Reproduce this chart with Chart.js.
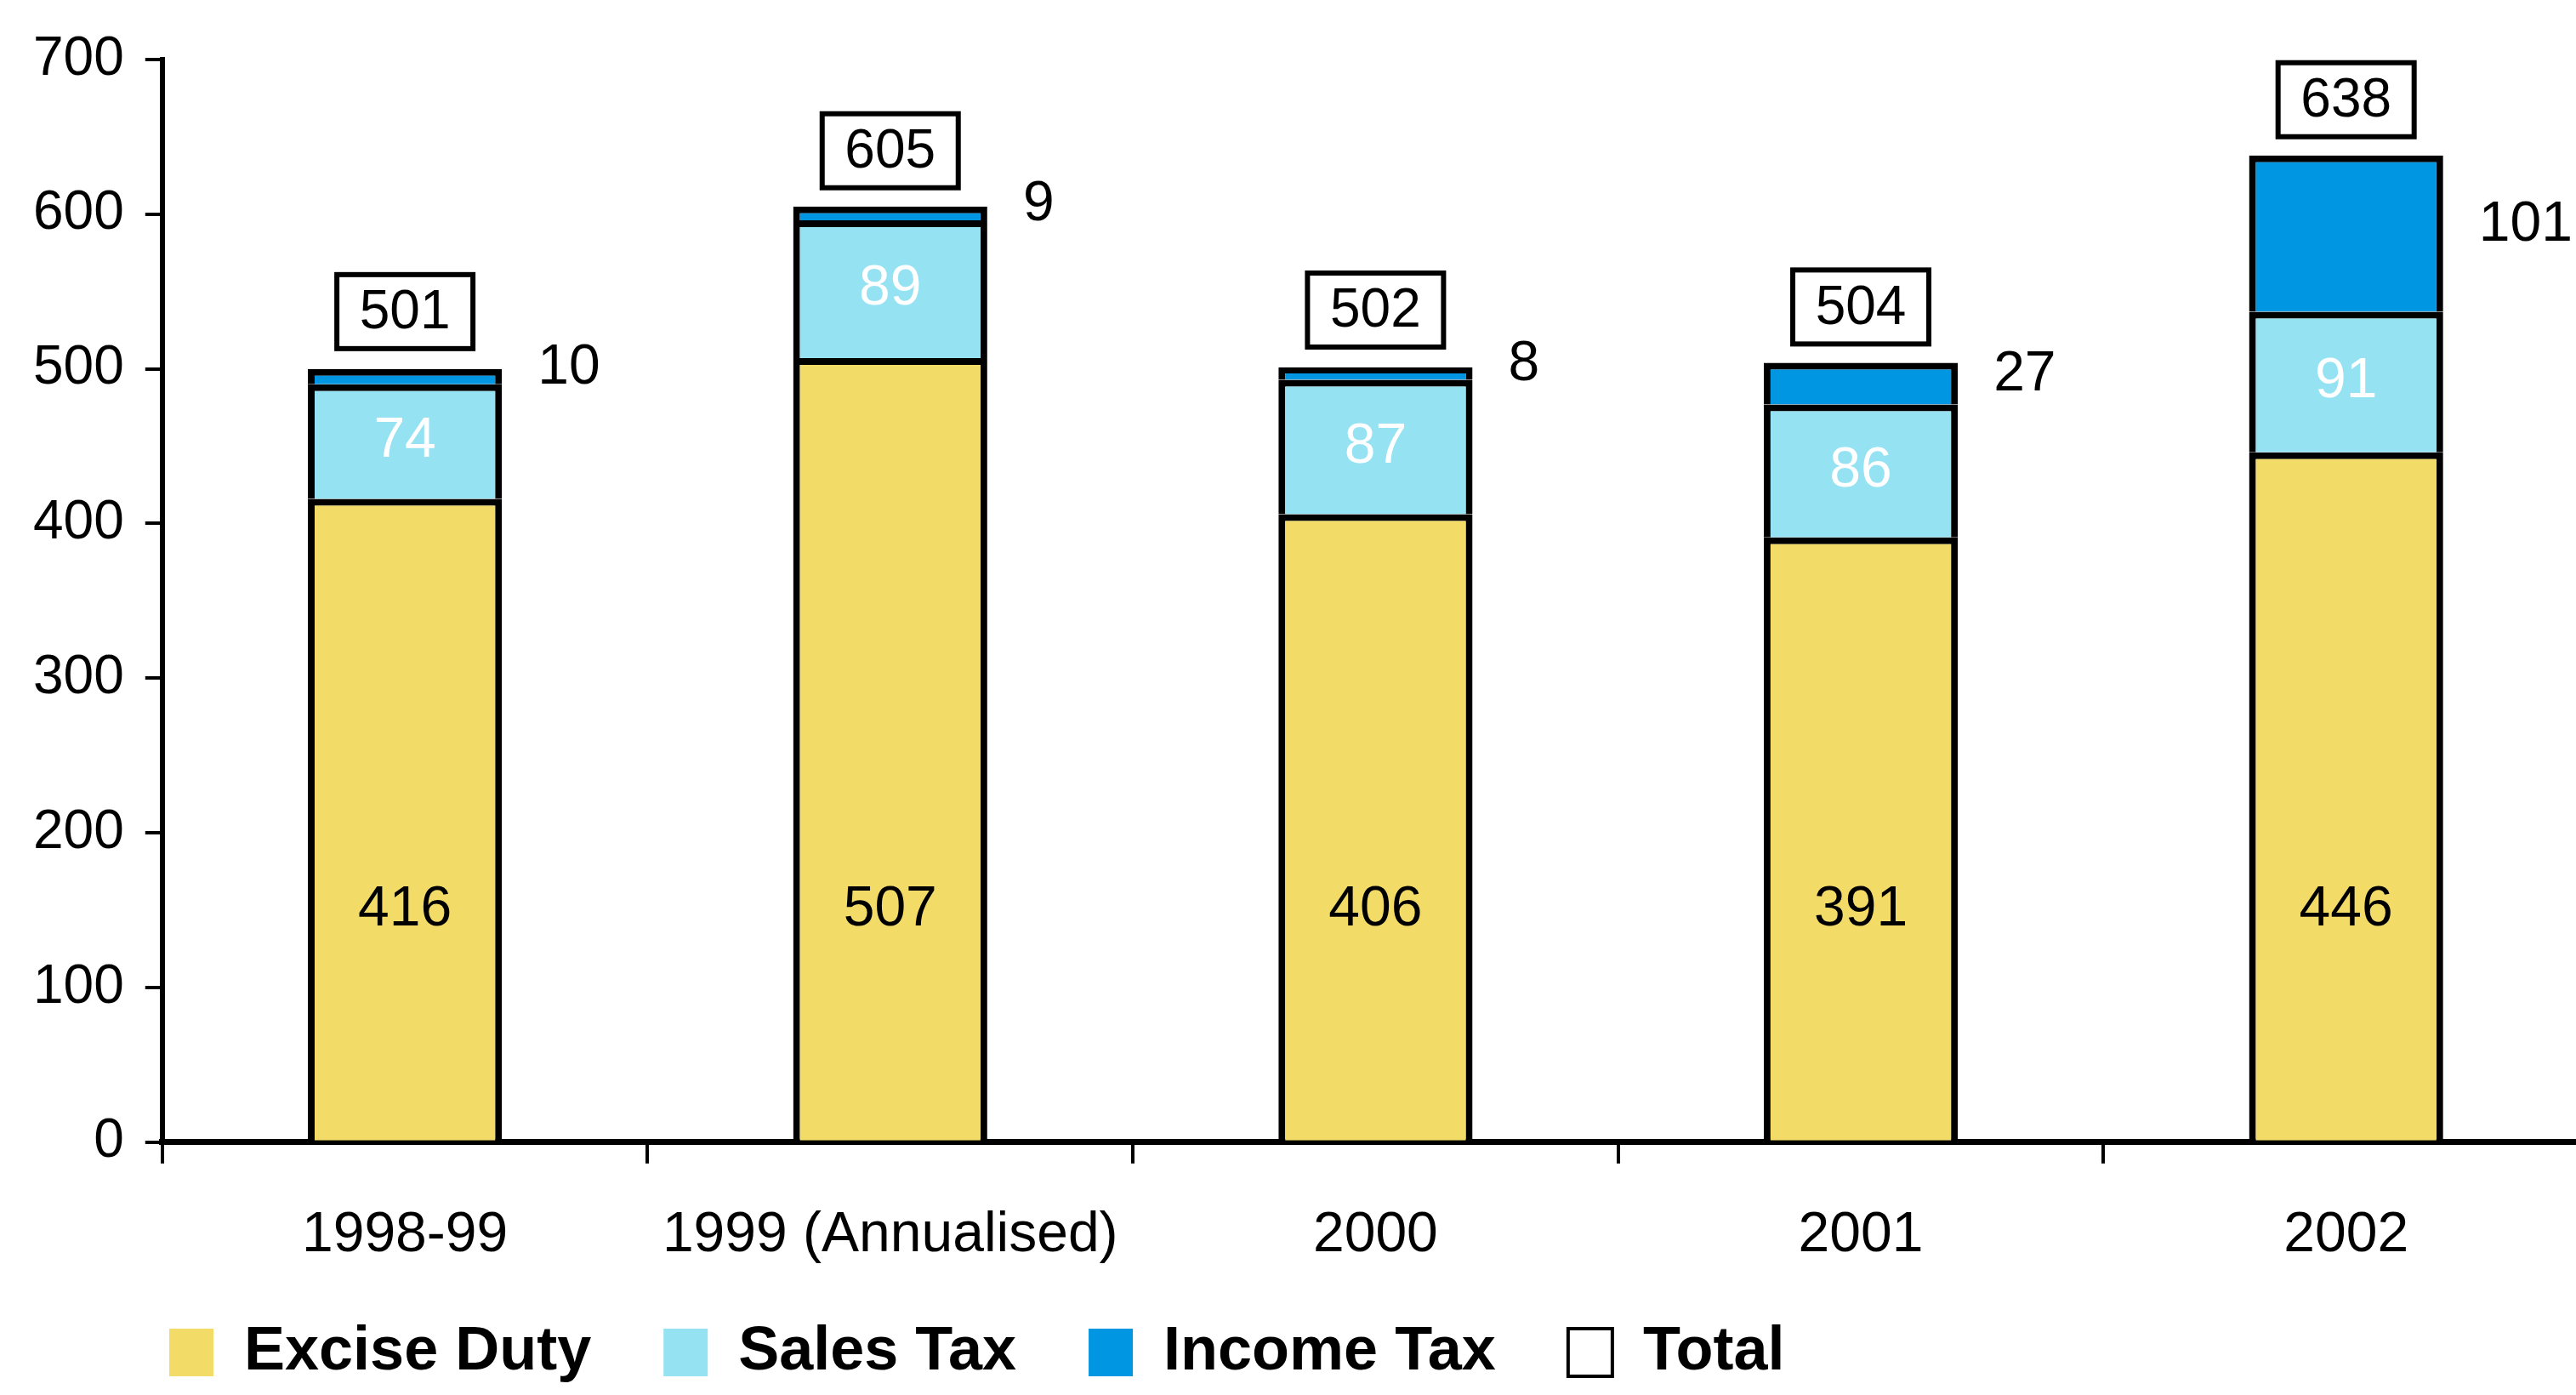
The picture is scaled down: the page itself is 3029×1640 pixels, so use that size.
<!DOCTYPE html>
<html>
<head>
<meta charset="utf-8">
<script src="https://cdn.jsdelivr.net/npm/chart.js@4.4.1/dist/chart.umd.min.js"></script>
<style>
  html, body { margin: 0; padding: 0; background: #fff; overflow: hidden; }
  #wrap { width: 3044px; height: 1640px; position: relative; }
</style>
</head>
<body>
<div id="wrap"><canvas id="taxChart"></canvas></div>
<script>
const years = ['1998-99', '1999 (Annualised)', '2000', '2001', '2002'];
const exciseDuty = [416, 507, 406, 391, 446];
const salesTax = [74, 89, 87, 86, 91];
const incomeTax = [10, 9, 8, 27, 101];
const totals = [501, 605, 502, 504, 638];

const FONT = '"Liberation Sans", Arial, Helvetica, sans-serif';

// value labels: excise inside near bottom, sales tax centred in white,
// income tax beside the bar, totals in a box above the stack
const barLabels = {
    id: 'barLabels',
    afterDatasetsDraw(chart) {
        const ctx = chart.ctx;
        const yScale = chart.scales.y;
        ctx.save();
        ctx.textBaseline = 'middle';
        ctx.font = '66px ' + FONT;

        chart.getDatasetMeta(0).data.forEach((bar, i) => {
            ctx.fillStyle = '#000';
            ctx.textAlign = 'center';
            ctx.fillText(exciseDuty[i], bar.x, yScale.getPixelForValue(150));
        });

        chart.getDatasetMeta(1).data.forEach((bar, i) => {
            ctx.fillStyle = '#fff';
            ctx.textAlign = 'center';
            ctx.fillText(salesTax[i], bar.x, (bar.y + bar.base) / 2);
        });

        chart.getDatasetMeta(2).data.forEach((bar, i) => {
            ctx.fillStyle = '#000';
            ctx.textAlign = 'left';
            ctx.fillText(incomeTax[i], bar.x + bar.width / 2 + 42, (bar.y + bar.base) / 2 - 10);
        });

        ctx.font = '64px ' + FONT;
        chart.getDatasetMeta(3).data.forEach((pt, i) => {
            const w = 160, h = 87;
            const bottom = pt.y - 22;
            ctx.fillStyle = '#fff';
            ctx.fillRect(pt.x - w / 2, bottom - h, w, h);
            ctx.lineWidth = 6;
            ctx.strokeStyle = '#000';
            ctx.strokeRect(pt.x - w / 2, bottom - h, w, h);
            ctx.fillStyle = '#000';
            ctx.textAlign = 'center';
            ctx.fillText(totals[i], pt.x, bottom - h / 2 + 2);
        });
        ctx.restore();
    }
};

// nudge the legend row so it starts under the y axis
const legendShift = {
    id: 'legendShift',
    afterLayout(chart) {
        const lg = chart.legend;
        lg.left += 100; lg.right += 100;
        lg.top -= 68;
        lg.bottom = chart.height;
        lg.height = lg.bottom - lg.top;
    }
};

new Chart(document.getElementById('taxChart'), {
    type: 'bar',
    data: {
        labels: years,
        datasets: [
            { label: 'Excise Duty', data: exciseDuty, backgroundColor: '#F3DB67', borderColor: '#000', borderWidth: 8 },
            { label: 'Sales Tax', data: salesTax, backgroundColor: '#95E2F3', borderColor: '#000', borderWidth: 8 },
            { label: 'Income Tax', data: incomeTax, backgroundColor: '#0096E2', borderColor: '#000', borderWidth: 8 },
            {
                type: 'line', label: 'Total', data: totals, stack: 'total',
                showLine: false, pointRadius: 0, pointHoverRadius: 0,
                backgroundColor: '#fff', borderColor: '#000', borderWidth: 4
            }
        ]
    },
    options: {
        responsive: true,
        maintainAspectRatio: false,
        animation: false,
        layout: { padding: { left: 14, right: 0, top: 70, bottom: 0 } },
        datasets: { bar: { barPercentage: 0.4, categoryPercentage: 1 } },
        plugins: {
            tooltip: { enabled: false },
            legend: {
                position: 'bottom',
                align: 'start',
                maxHeight: 103,
                labels: {
                    color: '#000',
                    boxWidth: 52,
                    boxHeight: 56,
                    padding: 85,
                    font: { family: FONT, size: 72, weight: 'bold' },
                    generateLabels(chart) {
                        const items = Chart.defaults.plugins.legend.labels.generateLabels(chart);
                        items.forEach((it, i) => {
                            if (i < 3) { it.lineWidth = 0; it.strokeStyle = it.fillStyle; }
                        });
                        return items;
                    }
                }
            }
        },
        scales: {
            x: {
                stacked: true,
                border: { color: '#000', width: 7 },
                grid: { drawOnChartArea: false, color: '#000', lineWidth: 4, tickLength: 25 },
                ticks: { color: '#000', padding: 45, font: { family: FONT, size: 66 } }
            },
            y: {
                stacked: true,
                min: 0,
                max: 700,
                border: { color: '#000', width: 6 },
                grid: { drawOnChartArea: false, color: '#000', lineWidth: 4, tickLength: 20 },
                ticks: { stepSize: 100, color: '#000', padding: 25, font: { family: FONT, size: 64 } }
            }
        }
    },
    plugins: [barLabels, legendShift]
});
</script>
</body>
</html>
